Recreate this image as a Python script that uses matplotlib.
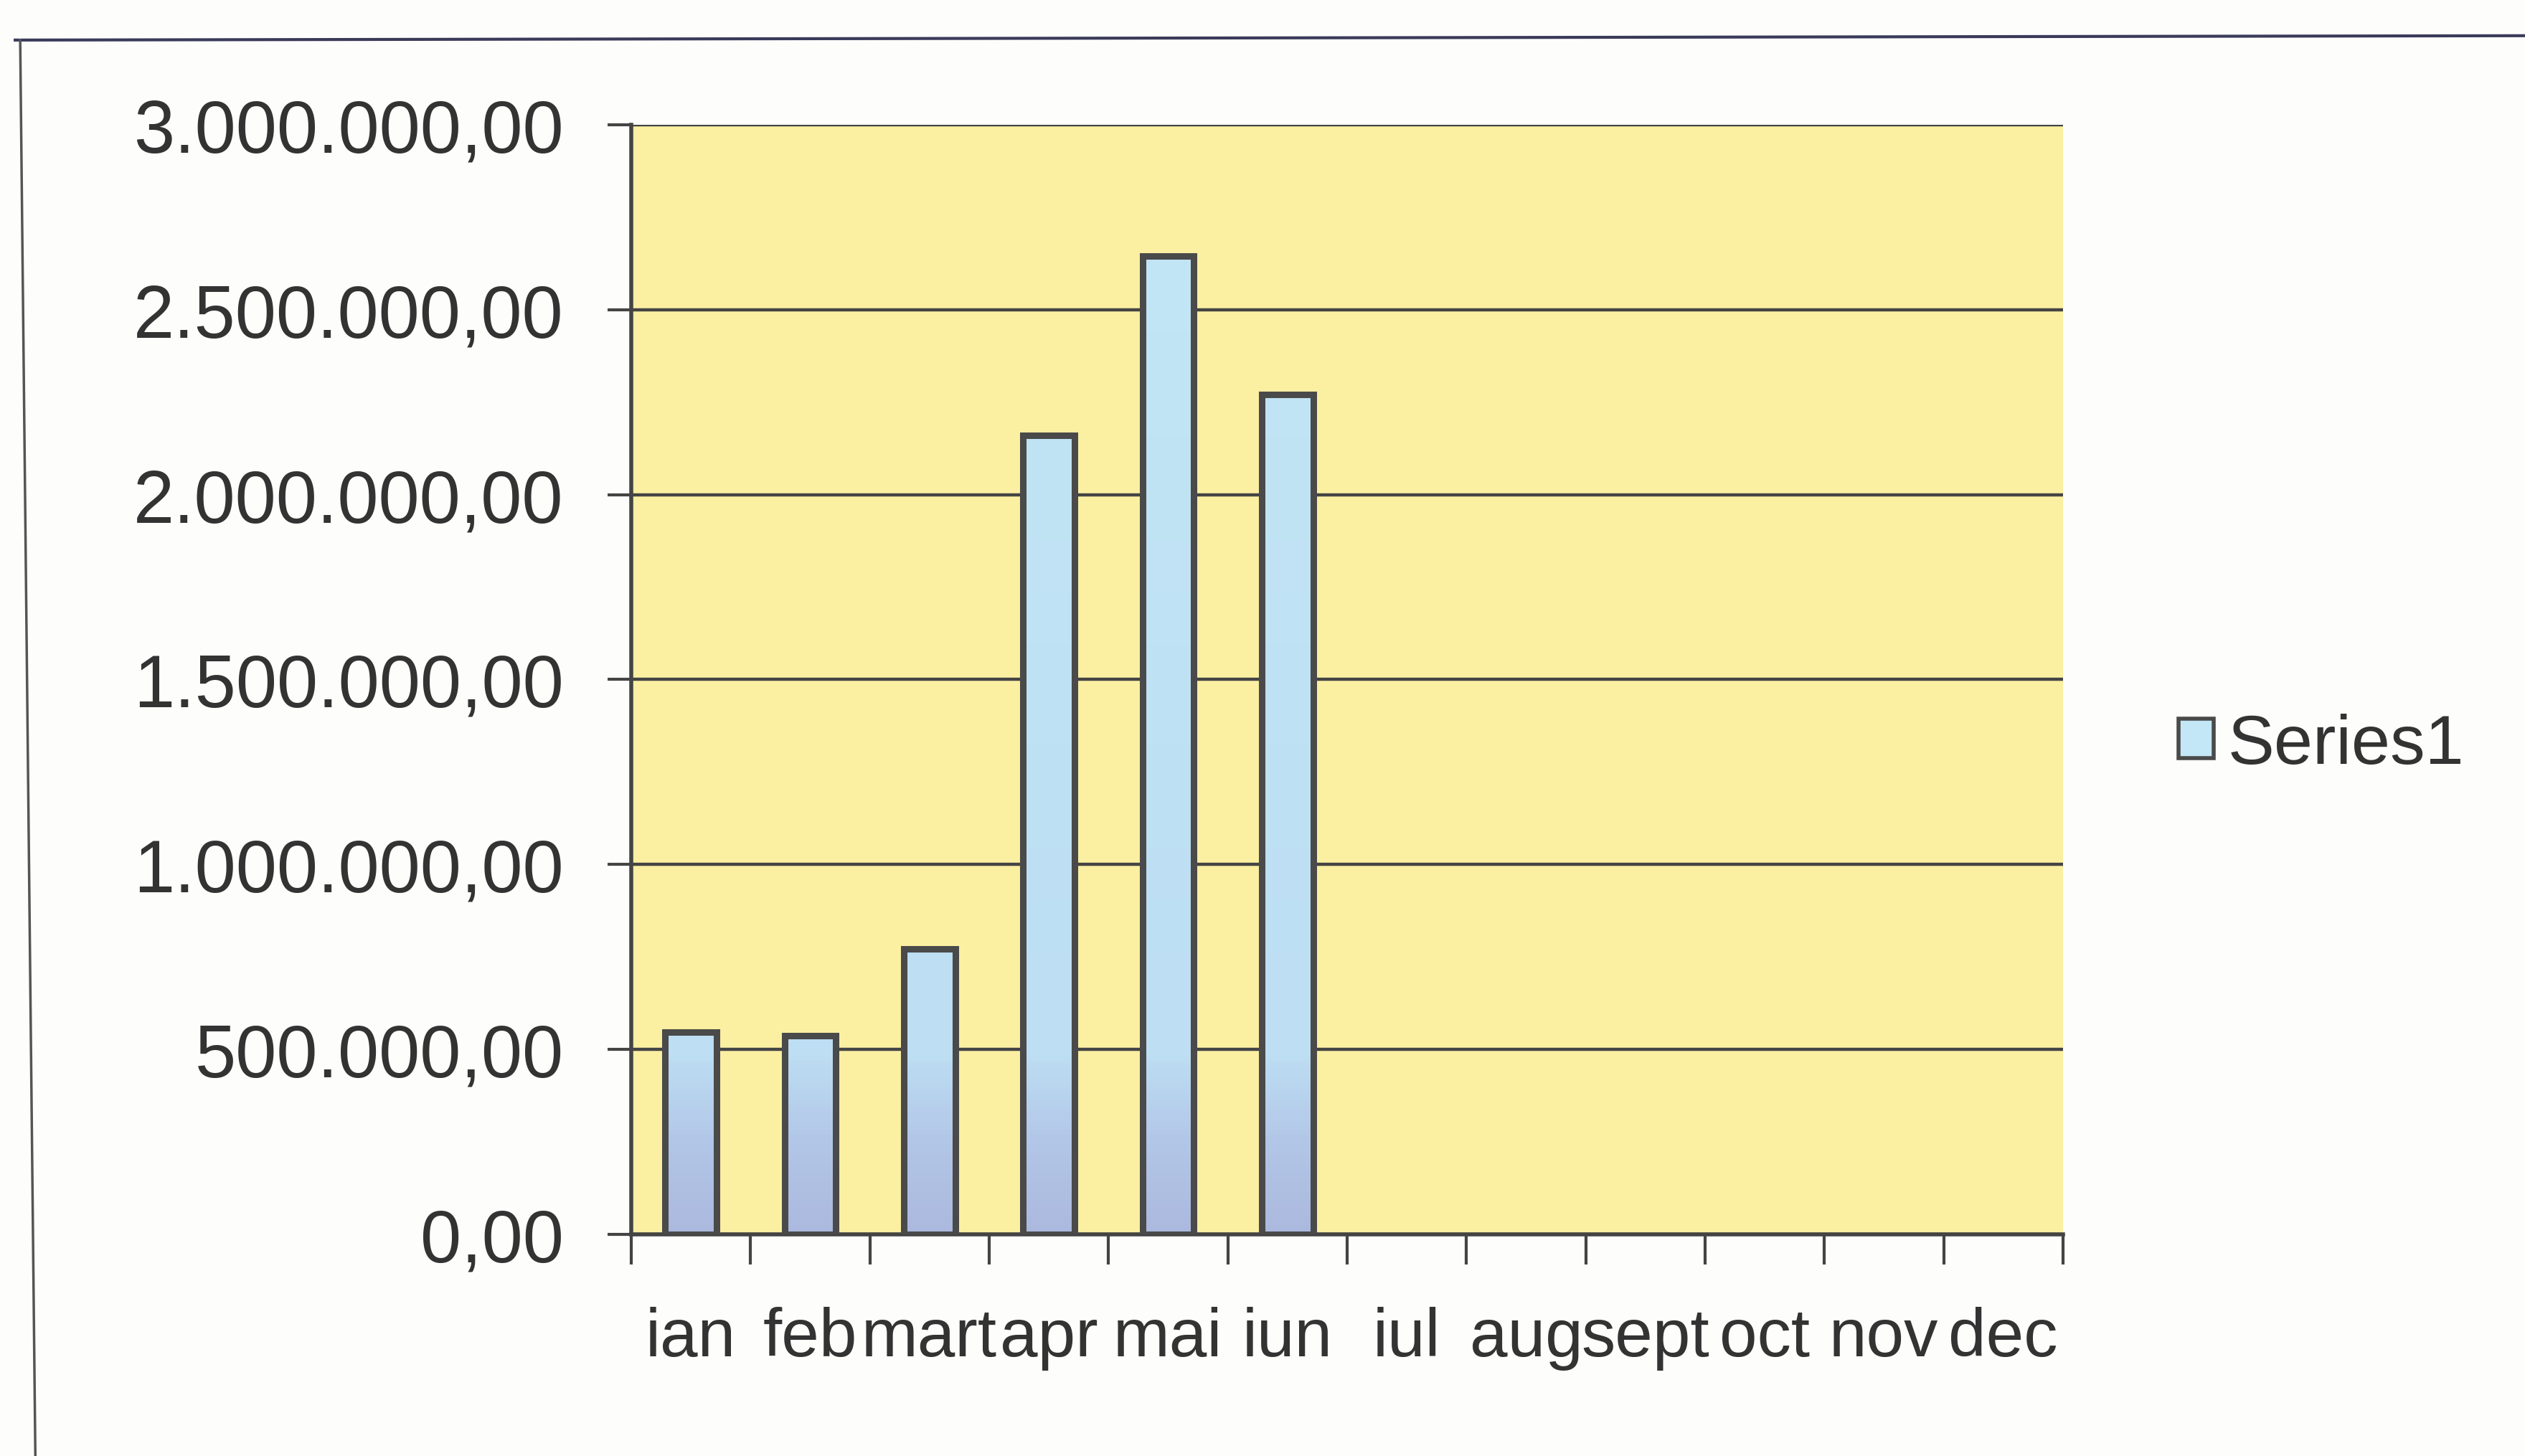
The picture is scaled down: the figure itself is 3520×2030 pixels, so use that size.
import numpy as np
import matplotlib.pyplot as plt
from matplotlib.lines import Line2D
from matplotlib.patches import Patch
from matplotlib.colors import LinearSegmentedColormap
from matplotlib.ticker import FuncFormatter

# months (Romanian abbreviations) and monthly values
months = ["ian", "feb", "mart", "apr", "mai", "iun", "iul", "aug", "sept", "oct", "nov", "dec"]
values = [548000, 537000, 772000, 2160000, 2645000, 2270000, 0, 0, 0, 0, 0, 0]
y_ticks = [0, 500000, 1000000, 1500000, 2000000, 2500000, 3000000]

plt.rcParams["font.family"] = ["Liberation Sans", "DejaVu Sans"]

text_col = "#333333"
line_col = "#444444"


def ro_number(v, pos=None):
    # 2500000 -> 2.500.000,00
    s = f"{v:,.2f}"
    return s.replace(",", "X").replace(".", ",").replace("X", ".")


fig = plt.figure(figsize=(35.2, 20.31), dpi=100, facecolor="#fdfdfb")
ax = fig.add_axes([0.250, 0.152, 0.567, 0.762])
ax.set_facecolor("#fbefa2")

x = np.arange(len(months))
bars = ax.bar(x, values, width=0.43, color="none", edgecolor="#4a4a4a",
              linewidth=6.5, zorder=3)

# lavender at the bottom, light blue above (same for all bars)
grad = np.linspace(0, 1, 256).reshape(-1, 1)
cmap = LinearSegmentedColormap.from_list(
    "bar", [(0, "#abb9de"), (0.08, "#b2c6e7"), (0.16, "#bddef3"), (1, "#c3e7f6")])
for b in bars:
    if b.get_height() <= 0:
        b.set_linewidth(0)
        continue
    im = ax.imshow(grad, cmap=cmap, origin="lower", aspect="auto",
                   extent=[b.get_x(), b.get_x() + b.get_width(), 0, 3000000],
                   zorder=2.5)
    im.set_clip_path(b)

ax.set_xlim(-0.5, len(months) - 0.5)
ax.set_ylim(0, 3000000)
ax.set_yticks(y_ticks)
ax.yaxis.set_major_formatter(FuncFormatter(ro_number))

ax.set_xticks(x)
ax.set_xticklabels(months)
ax.set_xticks(np.arange(-0.5, len(months)), minor=True)
ax.tick_params(axis="x", which="major", length=0, pad=72, labelsize=68, labelcolor=text_col)
ax.tick_params(axis="x", which="minor", length=30, width=3, color=line_col, direction="out")
ax.tick_params(axis="y", length=24, width=3, color=line_col, direction="out",
               pad=44, labelsize=74, labelcolor=text_col)

ax.grid(axis="y", color=line_col, linewidth=3.2, zorder=1)
ax.set_axisbelow(True)
for side in ["left", "bottom"]:
    ax.spines[side].set_color(line_col)
    ax.spines[side].set_linewidth(4)
for side in ["top", "right"]:
    ax.spines[side].set_visible(False)

ax.legend(handles=[Patch(facecolor="#c3e7f6", edgecolor="#4a4a4a", linewidth=4, label="Series1")],
          loc="center left", bbox_to_anchor=(0.838, 0.488), bbox_transform=fig.transFigure,
          frameon=False, fontsize=70, handlelength=0.5, handleheight=0.5,
          handletextpad=0.2, labelcolor=text_col)

# chart area border (top and left edges visible in the scan)
fig.add_artist(Line2D([0.006, 1.0], [0.972, 0.975], color="#3a3a5a", linewidth=3))
fig.add_artist(Line2D([0.008, 0.014], [0.972, 0.0], color="#555555", linewidth=2.5))

fig.savefig("out.png", dpi=100, facecolor=fig.get_facecolor())
